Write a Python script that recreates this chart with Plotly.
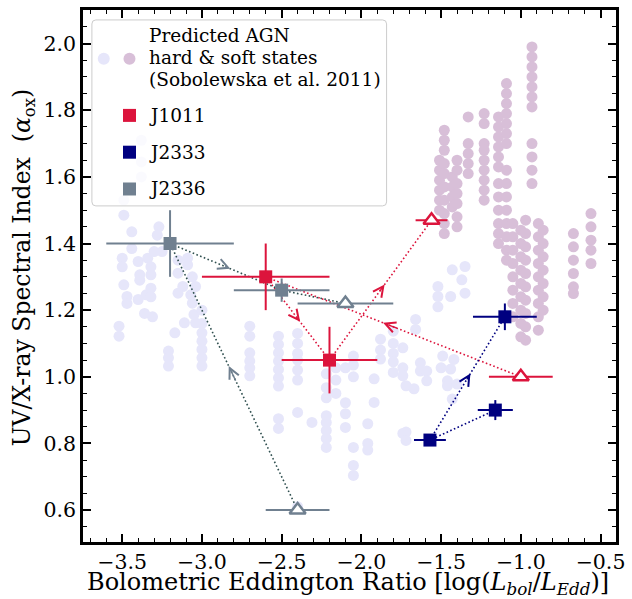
import plotly.graph_objects as go

# ---------------- data ----------------
# Predicted AGN hard states (lavender)
hard_x = [-3.38, -3.38, -3.38, -3.49, -3.49, -3.44, -3.44, -3.50, -3.50, -3.40,
          -3.34, -3.30, -3.27, -3.28, -3.32, -3.39, -3.39, -3.32, -3.49, -3.47,
          -3.47, -3.40, -3.35, -3.32, -3.32, -3.36, -3.31, -3.52, -3.52, -3.17,
          -3.21, -3.21, -3.21, -3.15, -3.09, -3.09, -3.15, -3.06, -3.12, -3.04,
          -3.15, -3.07, -3.06, -3.05, -3.00, -3.04, -3.00, -3.00, -3.00, -3.00,
          -3.00, -3.00, -3.11, -3.25,
          -2.70, -2.70, -2.70, -2.70, -2.70, -2.70,
          -2.52, -2.52, -2.52, -2.52, -2.52, -2.52, -2.52, -2.52, -2.52,
          -2.40, -2.40, -2.40, -2.40, -2.40, -2.40, -2.40, -2.31,
          -2.22, -2.22, -2.22, -2.22, -2.22, -2.22, -2.22, -2.22,
          -2.16, -2.16, -2.16, -2.10, -2.10, -2.10, -2.10,
          -2.05, -2.05, -2.05, -2.05, -2.05, -2.05,
          -1.96, -1.96, -1.96, -1.92, -1.92, -1.88, -1.88, -1.88,
          -1.80, -1.80, -1.80, -1.80, -1.80, -1.74, -1.74, -1.74, -1.74,
          -1.66, -1.66, -1.63, -1.63, -1.59, -1.59, -1.72, -1.67,
          -1.52, -1.52, -1.52, -1.43, -1.35, -1.37, -1.44, -1.35,
          -1.49, -1.42, -1.50, -1.44, -1.46, -1.46, -1.40, -1.43,
          -1.72, -1.72, -2.40]
hard_y = [1.71, 1.645, 1.60, 1.53, 1.485, 1.435, 1.385, 1.356, 1.33, 1.346,
          1.356, 1.376, 1.45, 1.425, 1.33, 1.306, 1.29, 1.306, 1.276, 1.241,
          1.22, 1.232, 1.246, 1.266, 1.24, 1.19, 1.18, 1.152, 1.122, 1.132,
          1.077, 1.057, 1.032, 1.35, 1.356, 1.336, 1.311, 1.30, 1.271, 1.271,
          1.251, 1.246, 1.221, 1.187, 1.20, 1.162, 1.16, 1.132, 1.107, 1.082,
          1.057, 1.032, 1.162, 1.376,
          1.152, 1.122, 1.072, 1.047, 1.027, 1.003,
          1.122, 1.097, 1.072, 1.047, 1.022, 0.997, 0.972, 0.874, 0.845,
          1.13, 1.10, 1.07, 1.05, 1.02, 0.99, 0.893, 0.863,
          1.009, 0.967, 0.937, 0.883, 0.863, 0.839, 0.815, 0.788,
          1.027, 0.99, 0.95, 0.922, 0.889, 0.848, 1.027,
          1.062, 1.035, 1.0, 0.788, 0.734, 0.704,
          0.859, 0.80, 0.78, 0.994, 0.923, 1.113, 1.08, 1.053,
          1.137, 1.10, 1.07, 1.045, 1.013, 1.087, 1.027, 1.003, 0.83,
          1.172, 1.142, 1.042, 1.017, 1.017, 0.988, 0.973, 0.964,
          1.271, 1.241, 1.21, 1.321, 1.331, 1.291, 1.241, 1.251,
          1.062, 1.052, 1.027, 1.023, 0.988, 0.973, 0.978, 0.933,
          0.834, 0.809, 0.61]

# Predicted AGN soft states (thistle)
soft_x = ([-1.51] * 6 + [-1.48] * 10 + [-1.43] * 4 + [-1.40] * 7 + [-1.33] * 5
          + [-1.23] * 9 + [-1.14] * 12 + [-1.09] * 15 + [-1.05] * 8 + [-1.00] * 9
          + [-0.97] * 10 + [-0.93] * 11 + [-0.89] * 9 + [-0.86] * 7 + [-0.67] * 6
          + [-0.56] * 5)
soft_y = [1.65, 1.62, 1.59, 1.56, 1.53, 1.50,
          1.74, 1.71, 1.68, 1.64, 1.61, 1.57, 1.53, 1.49, 1.46, 1.43,
          1.60, 1.57, 1.54, 1.51,
          1.65, 1.62, 1.58, 1.55, 1.52, 1.48, 1.45,
          1.78, 1.70, 1.67, 1.64, 1.61,
          1.79, 1.76, 1.70, 1.68, 1.65, 1.62, 1.59, 1.56, 1.53,
          1.78, 1.75, 1.72, 1.69, 1.66, 1.63, 1.58, 1.54, 1.50, 1.46, 1.43, 1.40,
          1.88, 1.85, 1.82, 1.79, 1.76, 1.73, 1.70, 1.62, 1.58, 1.54, 1.50, 1.46, 1.42, 1.38, 1.35,
          1.46, 1.42, 1.38, 1.34, 1.30, 1.26, 1.22, 1.18,
          1.44, 1.40, 1.36, 1.32, 1.28, 1.24, 1.20, 1.16, 1.12,
          1.47, 1.43, 1.39, 1.35, 1.31, 1.27, 1.23, 1.19, 1.15, 1.11,
          1.99, 1.96, 1.93, 1.90, 1.87, 1.84, 1.81, 1.70, 1.66, 1.62, 1.58,
          1.46, 1.42, 1.38, 1.34, 1.30, 1.26, 1.22, 1.18, 1.14,
          1.44, 1.40, 1.36, 1.32, 1.28, 1.24, 1.20,
          1.43, 1.39, 1.35, 1.31, 1.27, 1.25,
          1.49, 1.45, 1.41, 1.38, 1.34]

# J1011 (squares = detections, triangles = other epochs)
j1011_sq_x = [-2.6, -2.2]
j1011_sq_y = [1.30, 1.05]
j1011_sq_xerr = [0.4, 0.3]
j1011_sq_yerr = [0.10, 0.10]
j1011_tri_x = [-1.0, -1.56]
j1011_tri_y = [1.00, 1.47]
j1011_tri_xerr = [0.2, 0.1]

# J2333
j2333_sq_x = [-1.16, -1.57, -1.10]
j2333_sq_y = [0.90, 0.81, 1.18]
j2333_sq_xerr = [0.11, 0.10, 0.20]
j2333_sq_yerr = [0.03, 0.015, 0.04]

# J2336
j2336_sq_x = [-3.2, -2.5]
j2336_sq_y = [1.40, 1.26]
j2336_sq_xerr = [0.4, 0.3]
j2336_sq_yerr = [0.10, 0.035]
j2336_tri_x = [-2.4, -2.1]
j2336_tri_y = [0.60, 1.22]
j2336_tri_xerr = [0.2, 0.3]

x_ticks = [-3.5, -3.0, -2.5, -2.0, -1.5, -1.0, -0.5]
y_ticks = [0.6, 0.8, 1.0, 1.2, 1.4, 1.6, 1.8, 2.0]

# ---------------- styling ----------------
FONT = "DejaVu Serif"
C1011 = "#DC143C"
C2333 = "#000080"
C2336 = "#708090"
LAV = "#E6E6FA"
THI = "#D8BFD8"

W, H = 632, 599
ML, MR, MT, MB = 83, 10, 7, 57
PW, PH = W - ML - MR, H - MT - MB


def px_x(px):
    return (px - ML) / PW


def px_y(py):
    return (H - MB - py) / PH


fig = go.Figure()

fig.add_trace(go.Scatter(x=hard_x, y=hard_y, mode="markers",
                         marker=dict(color=LAV, size=11, line=dict(width=0)),
                         hoverinfo="skip", showlegend=False))
fig.add_trace(go.Scatter(x=soft_x, y=soft_y, mode="markers",
                         marker=dict(color=THI, size=11, line=dict(width=0)),
                         hoverinfo="skip", showlegend=False))

# paths (chronological sequences)
paths = [
    ([j1011_tri_x[0], j1011_sq_x[0], j1011_sq_x[1], j1011_tri_x[1]],
     [j1011_tri_y[0], j1011_sq_y[0], j1011_sq_y[1], j1011_tri_y[1]], C1011, C1011),
    (j2333_sq_x, j2333_sq_y, C2333, C2333),
    ([j2336_tri_x[0], j2336_sq_x[0], j2336_sq_x[1], j2336_tri_x[1]],
     [j2336_tri_y[0], j2336_sq_y[0], j2336_sq_y[1], j2336_tri_y[1]], "#2F4F4F", C2336),
]

annotations = []
for px_, py_, lc, ac in paths:
    fig.add_trace(go.Scatter(x=px_, y=py_, mode="lines",
                             line=dict(color=lc, width=1.6, dash="1.6px,2.4px"),
                             hoverinfo="skip", showlegend=False))
    for i in range(len(px_) - 1):
        x0, y0, x1, y1 = px_[i], py_[i], px_[i + 1], py_[i + 1]
        hx, hy = x0 + 0.54 * (x1 - x0), y0 + 0.54 * (y1 - y0)
        tx, ty = x0 + 0.48 * (x1 - x0), y0 + 0.48 * (y1 - y0)
        annotations.append(dict(x=hx, y=hy, ax=tx, ay=ty, xref="x", yref="y",
                                axref="x", ayref="y", text="", showarrow=True,
                                arrowhead=5, arrowsize=1.45, arrowwidth=1.4,
                                arrowcolor=ac, standoff=0, startstandoff=0))


def add_sq(x, y, xe, ye, c):
    fig.add_trace(go.Scatter(
        x=x, y=y, mode="markers",
        marker=dict(symbol="square", size=13, color=c, line=dict(width=0)),
        error_x=dict(type="data", array=xe, color=c, thickness=2, width=0),
        error_y=dict(type="data", array=ye, color=c, thickness=2, width=0),
        hoverinfo="skip", showlegend=False))


def add_tri(x, y, xe, c):
    fig.add_trace(go.Scatter(
        x=x, y=y, mode="markers",
        marker=dict(symbol="triangle-up", size=14, color="white",
                    line=dict(width=2.5, color=c)),
        error_x=dict(type="data", array=xe, color=c, thickness=2, width=0),
        hoverinfo="skip", showlegend=False))


add_tri(j2336_tri_x, j2336_tri_y, j2336_tri_xerr, C2336)
add_sq(j2336_sq_x, j2336_sq_y, j2336_sq_xerr, j2336_sq_yerr, C2336)
add_tri(j1011_tri_x, j1011_tri_y, j1011_tri_xerr, C1011)
add_sq(j1011_sq_x, j1011_sq_y, j1011_sq_xerr, j1011_sq_yerr, C1011)
add_sq(j2333_sq_x, j2333_sq_y, j2333_sq_xerr, j2333_sq_yerr, C2333)

# ---------------- manual legend ----------------
shapes = []
lx0, lx1, ly0, ly1 = px_x(92), px_x(390), px_y(204), px_y(17)
rx, ry = 4 / PW, 4 / PH
path = (f"M{lx0 + rx},{ly1} L{lx1 - rx},{ly1} Q{lx1},{ly1} {lx1},{ly1 - ry} "
        f"L{lx1},{ly0 + ry} Q{lx1},{ly0} {lx1 - rx},{ly0} L{lx0 + rx},{ly0} "
        f"Q{lx0},{ly0} {lx0},{ly0 + ry} L{lx0},{ly1 - ry} Q{lx0},{ly1} {lx0 + rx},{ly1} Z")
shapes.append(dict(type="path", path=path, xref="paper", yref="paper",
                   fillcolor="rgba(255,255,255,0.8)",
                   line=dict(color="#cccccc", width=1), layer="above"))


def marker_shape(kind, cx, cy, r, col):
    return dict(type=kind, xref="paper", yref="paper",
                xsizemode="pixel", ysizemode="pixel",
                xanchor=px_x(cx), yanchor=px_y(cy),
                x0=-r, x1=r, y0=-r, y1=r,
                fillcolor=col, line=dict(width=0), layer="above")


shapes.append(marker_shape("circle", 104, 56, 6, LAV))
shapes.append(marker_shape("circle", 130, 56, 6, THI))
shapes.append(marker_shape("rect", 130, 113, 6.5, C1011))
shapes.append(marker_shape("rect", 130, 150, 6.5, C2333))
shapes.append(marker_shape("rect", 130, 187, 6.5, C2336))

legend_lines = [("Predicted AGN", 33), ("hard & soft states", 55),
                ("(Sobolewska et al. 2011)", 77), ("J1011", 113),
                ("J2333", 150), ("J2336", 187)]
for txt, yy in legend_lines:
    annotations.append(dict(text=txt, x=px_x(148), y=px_y(yy), xref="paper",
                            yref="paper", xanchor="left", yanchor="middle",
                            showarrow=False,
                            font=dict(family=FONT, size=18.5, color="black")))

# axis titles
annotations.append(dict(
    text="UV/X-ray Spectral Index\u00a0 (<i>α</i><sub>ox</sub>)",
    x=px_x(23), y=px_y(266), xref="paper", yref="paper", textangle=-90,
    xanchor="center", yanchor="middle", showarrow=False,
    font=dict(family=FONT, size=23.5, color="black")))
annotations.append(dict(
    text="Bolometric Eddington Ratio [log(<i>L<sub>bol</sub></i>/<i>L<sub>Edd</sub></i>)]",
    x=px_x(351), y=px_y(584), xref="paper", yref="paper",
    xanchor="center", yanchor="middle", showarrow=False,
    font=dict(family=FONT, size=24, color="black")))

axis_common = dict(showgrid=False, zeroline=False, showline=True, linecolor="black",
                   linewidth=2.5, mirror="allticks", ticks="inside", ticklen=8,
                   tickwidth=1.5, tickcolor="black", ticklabeloverflow="allow",
                   tickfont=dict(family=FONT, size=20.5, color="black"))

fig.update_layout(
    width=W, height=H,
    margin=dict(l=ML, r=MR, t=MT, b=MB, pad=0),
    plot_bgcolor="white", paper_bgcolor="white",
    showlegend=False,
    xaxis=dict(range=[-3.746, -0.403], tickvals=x_ticks,
               ticktext=[f"{v:.1f}".replace("-", "\u2212") for v in x_ticks],
               minor=dict(ticks="inside", ticklen=4, tickwidth=1.2, dtick=0.1,
                          tick0=-3.5, tickcolor="black", showgrid=False),
               **axis_common),
    yaxis=dict(range=[0.504, 2.101], tickvals=y_ticks,
               ticktext=[f"{v:.1f}" for v in y_ticks],
               minor=dict(ticks="inside", ticklen=4, tickwidth=1.2, dtick=0.05,
                          tick0=0.6, tickcolor="black", showgrid=False),
               **axis_common),
    shapes=shapes,
    annotations=annotations,
)

fig.write_html("out.html")
